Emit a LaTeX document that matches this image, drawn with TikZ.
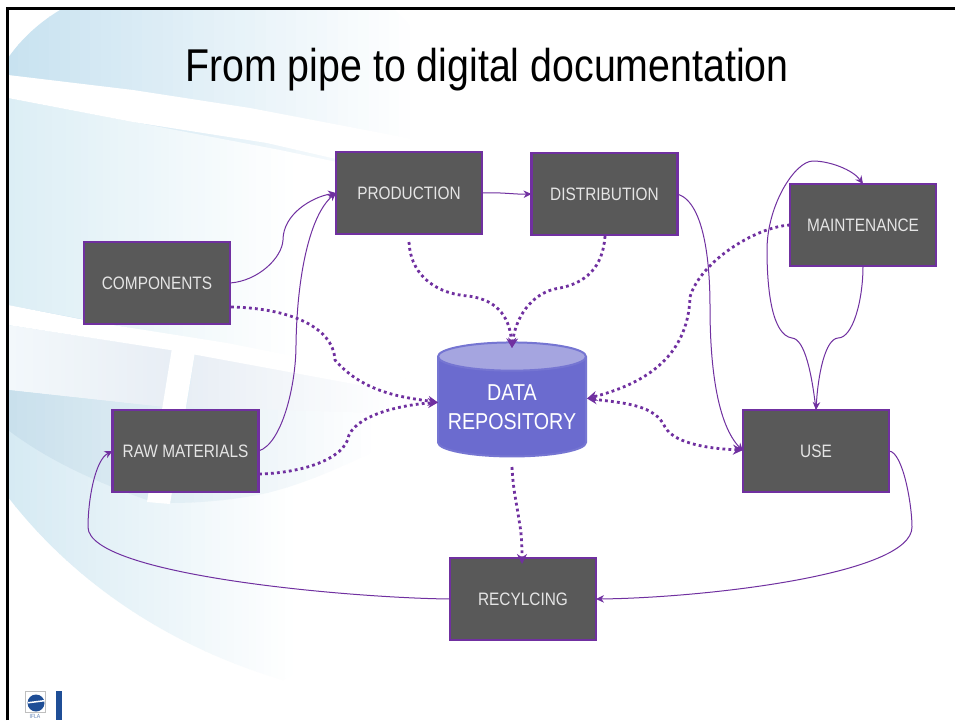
\documentclass[tikz,border=0pt]{standalone}
\usepackage{fontspec}
\setmainfont{Liberation Sans}[FakeStretch=0.855]
\usetikzlibrary{arrows.meta,shapes.geometric}
\definecolor{vio}{HTML}{7030A0}
\definecolor{boxg}{HTML}{595959}
\definecolor{cylb}{HTML}{6B6BCF}
\definecolor{cylt}{HTML}{A5A5E0}
\definecolor{cyle}{HTML}{7575D2}
\definecolor{bgA}{HTML}{C8E2F0}
\definecolor{bgB}{HTML}{DCEEF5}
\definecolor{bgC}{HTML}{F3F8FB}
\definecolor{bgD}{HTML}{E8EEF5}
\definecolor{bgE}{HTML}{C9E0EC}
\definecolor{bgF}{HTML}{D6EAF3}
\definecolor{logob}{HTML}{1F4E96}
\tikzset{
  stagebox/.style={draw=vio,line width=2.8pt,fill=boxg,minimum width=146pt,minimum height=82pt,outer sep=0pt,inner sep=0pt,text=white!90!black,font=\fontsize{18}{20}\selectfont},
  flow/.style={draw=vio,line width=1pt,-{Stealth[length=8pt,width=7.5pt]}},
  info/.style={draw=vio,line width=2.8pt,dash pattern=on 2.8pt off 3.2pt,-{Stealth[length=10pt,width=10pt]}},
  bothinfo/.style={info,{Stealth[length=10pt,width=9pt]}-{Stealth[length=10pt,width=10pt]}}
}
% #1 clip path, #2 left colour, #3 right colour, #4 left x, #5 right x
\newcommand{\gradpanel}[5]{%
  \begin{scope}
    \clip #1;
    \foreach \i in {0,...,39}{%
      \pgfmathtruncatemacro{\pct}{100-\i*100/39}%
      \fill[color={#2!\pct!#3}] ({#4+\i/40*(#5-#4)},0) rectangle ({#4+(\i+1)/40*(#5-#4)+0.6},720);
    }
    \fill[color=#3] (#5,0) rectangle (480,720);
  \end{scope}}
\begin{document}
\begin{tikzpicture}[x=1pt,y=-1pt]
\useasboundingbox (0,0) rectangle (955,720);
\fill[white] (0,0) rectangle (955,720);
% background globe: upper part
\gradpanel{(8,58) .. controls (22,38) and (40,22) .. (60,10) -- (395,10) .. controls (435,50) and (460,100) .. (470,180) -- (470,440) -- (8,440) -- cycle}{bgA}{white}{8}{420}
% panel between the first and second band
\gradpanel{(8,98) -- (280,150) -- (470,190) -- (470,390) -- (300,360) -- (8,305) -- cycle}{bgB}{white}{8}{300}
% panel below second band, left of the vertical band
\gradpanel{(8,325) -- (172,350) -- (163,407) -- (8,390) -- cycle}{bgC}{bgD}{8}{172}
% panel below second band, right of the vertical band
\gradpanel{(195,354) -- (440,395) -- (440,420) -- (187,407) -- cycle}{bgD}{white}{187}{400}
% lower globe
\gradpanel{(8,420) -- (440,420) .. controls (400,560) and (340,650) .. (283,680) .. controls (180,650) and (80,590) .. (8,497) -- cycle}{bgF}{white}{8}{300}
% dark lens
\gradpanel{(8,390) -- (163,407) -- (187,407) -- (440,415) .. controls (380,450) and (320,480) .. (267,493) .. controls (235,500) and (200,503) .. (170,503) -- (147,500) .. controls (90,480) and (45,458) .. (8,430) -- cycle}{bgE}{white}{8}{380}
% white bands
\fill[white] (8,75) -- (133,90) -- (250,108) -- (470,150) -- (470,190) -- (267,143) -- (133,122) -- (8,98) -- cycle;
\fill[white] (8,305) -- (100,323) -- (227,343) -- (440,385) -- (440,400) -- (300,374) -- (170,350) -- (8,325) -- cycle;
\fill[white] (172,348) -- (195,352) -- (170,504) -- (147,502) -- cycle;
% frame
\draw[black,line width=2.8pt] (7.5,720) -- (7.5,8.8) -- (955,8.8);
% logo
\draw[gray!50,line width=.5pt] (25,691) -- (45,691) -- (45,712) -- (25,712) -- cycle;
\fill[logob] (36,703) circle (8.5);
\fill[white] (28,702) -- (44,700) -- (44,701.5) -- (28,703.5) -- cycle;
\fill[logob] (56,691) rectangle (62,720);
\node[inner sep=0pt,text=logob!70!white,font=\fontsize{6}{6}\selectfont] (logotxt) at (35,716) {IFLA};
% title
\node[inner sep=0pt,font=\fontsize{46}{50}\selectfont,text=black] (title) at (487,70) {From pipe to digital documentation};
% stage boxes
\node[stagebox] (prod) at (409,193) {PRODUCTION};
\node[stagebox] (dist) at (604.5,194) {DISTRIBUTION};
\node[stagebox] (maint) at (863,225) {MAINTENANCE};
\node[stagebox] (use) at (816,451) {USE};
\node[stagebox] (comp) at (157,283) {COMPONENTS};
\node[stagebox] (raw) at (185.5,451) {RAW MATERIALS};
\node[stagebox] (recy) at (523,599) {RECYLCING};
% repository
\node[cylinder,shape border rotate=90,aspect=0.22,cylinder uses custom fill,cylinder body fill=cylb,cylinder end fill=cylt,draw=cyle,line width=2pt,minimum width=148pt,minimum height=114pt,inner sep=0pt,outer sep=0pt,align=center,text=white,font=\fontsize{23}{29}\selectfont] (repo) at (512,407) {DATA\\REPOSITORY};
% connector ends that are not on an anchor
\coordinate (compD) at (231,307);
\coordinate (rawD) at (259,474);
\coordinate (prodD) at (409,242);
\coordinate (distD) at (605,236);
\coordinate (repoN) at (512,348);
\coordinate (repoW) at (438,402.5);
\coordinate (repoE) at (587,398.5);
\coordinate (repoS) at (512,467);
\coordinate (recyN) at (522,564);
\coordinate (useW) at (743,450);
% thin flows
\draw[flow] (comp.east) .. controls (258,281) and (282,258) .. (283,240) .. controls (283,214) and (312,197) .. (prod.west);
\draw[flow] (raw.east) .. controls (282,444) and (296,385) .. (296,345) .. controls (297,275) and (310,215) .. (prod.west);
\draw[flow] (prod.east) .. controls (500,192) and (515,194.5) .. (dist.west);
\draw[flow] (dist.east) .. controls (706,203) and (710,270) .. (710,307) .. controls (710,370) and (718,425) .. (use.west);
\draw[flow] (use.north) .. controls (812,375) and (805,339) .. (792,338) .. controls (772,335) and (767,290) .. (767,250) .. controls (767,205) and (795,161) .. (813,161) .. controls (830,161) and (853,170) .. (maint.north);
\draw[flow] (maint.south) .. controls (863,300) and (853,338) .. (838,338) .. controls (825,339) and (818,375) .. (use.north);
\draw[flow] (use.east) .. controls (903,452) and (912,505) .. (912,527) .. controls (912,575) and (700,598) .. (recy.east);
\draw[flow] (recy.west) .. controls (350,598) and (88,575) .. (88,527) .. controls (88,500) and (95,460) .. (raw.west);
% dotted information flows
\draw[info] (prodD) .. controls (410,270) and (430,293) .. (468,296) .. controls (500,300) and (510,320) .. (repoN);
\draw[info] (distD) .. controls (603,268) and (585,283) .. (560,288) .. controls (530,292) and (515,320) .. (repoN);
\draw[info] (compD) .. controls (285,308) and (333,325) .. (335,360) .. controls (365,395) and (410,398) .. (repoW);
\draw[info] (rawD) .. controls (300,473) and (345,460) .. (349,435) .. controls (360,412) and (410,404) .. (repoW);
\draw[info] (maint.west) .. controls (755,227) and (700,262) .. (690,297) .. controls (688,360) and (640,385) .. (repoE);
\draw[bothinfo] (repoE) .. controls (625,403) and (655,405) .. (665,427) .. controls (675,445) and (715,449) .. (useW);
\draw[info] (repoS) .. controls (513,490) and (517,505) .. (519,520) .. controls (522,535) and (522,550) .. (recyN);
\end{tikzpicture}
\end{document}
